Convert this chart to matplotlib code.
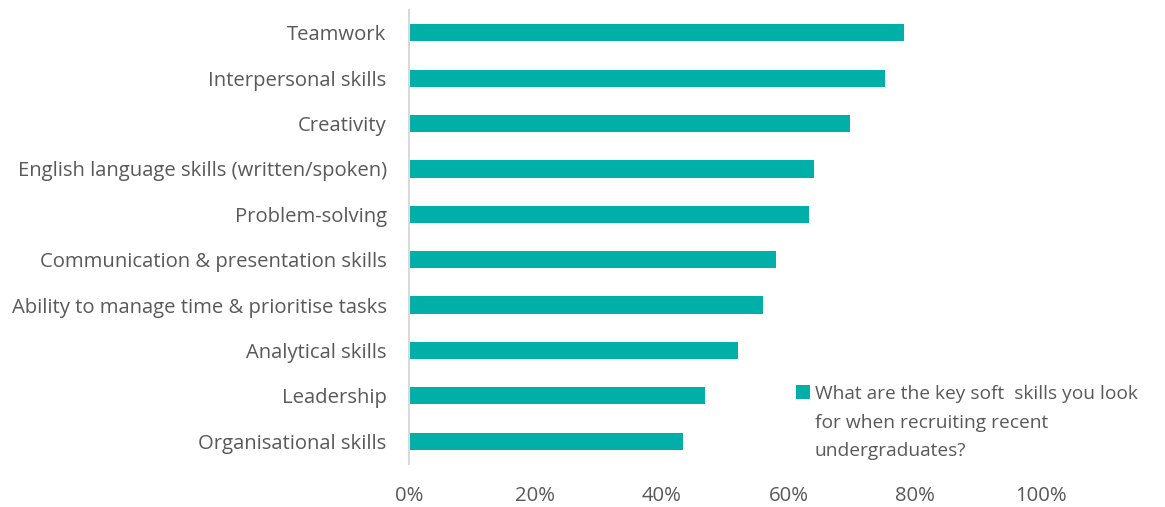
import matplotlib.pyplot as plt
from matplotlib.offsetbox import HPacker
from matplotlib.ticker import PercentFormatter

# Survey answers, bottom to top as drawn
skills = [
    "Organisational skills",
    "Leadership",
    "Analytical skills",
    "Ability to manage time & prioritise tasks",
    "Communication & presentation skills",
    "Problem-solving",
    "English language skills (written/spoken)",
    "Creativity",
    "Interpersonal skills",
    "Teamwork",
]
share = [0.434, 0.468, 0.521, 0.560, 0.580, 0.633, 0.641, 0.697, 0.752, 0.782]
ticks = [0, 0.2, 0.4, 0.6, 0.8, 1.0]
series_name = ("What are the key soft  skills you look\n"
               "for when recruiting recent\n"
               "undergraduates?")

bar_color = "#00b0a8"
text_color = "#595959"

plt.rcParams["font.family"] = ["Open Sans", "DejaVu Sans"]

fig = plt.figure(figsize=(11.65, 5.07), dpi=100)
ax = fig.add_axes([0.351, 0.085, 0.543, 0.895])

ax.barh(range(len(skills)), share, height=0.38, color=bar_color,
        label=series_name)

ax.set_xlim(0, 1.0)
ax.set_ylim(-0.5, len(skills) - 0.5)
ax.set_yticks(range(len(skills)))
ax.set_yticklabels(skills)
ax.set_xticks(ticks)
ax.xaxis.set_major_formatter(PercentFormatter(1.0, decimals=0))

ax.tick_params(axis="both", length=0, labelsize=14.6, labelcolor=text_color)
ax.tick_params(axis="y", pad=16)
ax.tick_params(axis="x", pad=16)

for side in ["top", "right", "bottom"]:
    ax.spines[side].set_visible(False)
ax.spines["left"].set_color("#d9d9d9")
ax.spines["left"].set_linewidth(1.5)

leg = ax.legend(loc="upper left", bbox_to_anchor=(0.597, 0.194),
                frameon=False, fontsize=13.8, handlelength=0.72,
                handleheight=0.72, handletextpad=0.25, labelcolor=text_color,
                borderpad=0)
leg.get_texts()[0].set_linespacing(1.75)
# keep the colour square level with the first line of the label
for box in leg.findobj(HPacker):
    box.align = "top"

fig.savefig("out.png", dpi=100, facecolor="white")
